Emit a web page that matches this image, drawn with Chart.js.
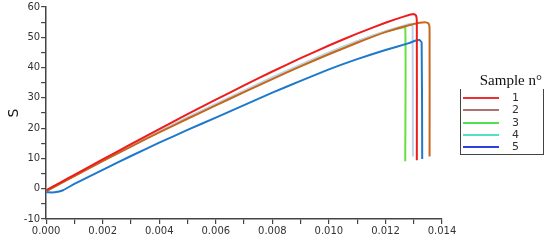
<!DOCTYPE html>
<html>
<head>
<meta charset="utf-8">
<script src="https://cdn.jsdelivr.net/npm/chart.js@4"></script>
<style>
  body { margin: 0; background: #fff; }
  #wrap { position: relative; width: 550px; height: 240px; }
  #legend { position: absolute; left: 460px; top: 71px; width: 84px; font-family: "DejaVu Sans", sans-serif; }
  #legend .title { font-family: "Liberation Serif", "DejaVu Serif", serif; font-size: 15px; color: #111; text-align: right; padding-right: 2px; line-height: 18px; }
  #legend .box { border-left: 1.5px solid #444; border-right: 1.5px solid #444; border-bottom: 1.5px solid #444; height: 65px; position: relative; }
  #legend .row { position: absolute; left: 1px; height: 12px; width: 80px; }
  #legend .row span.ln { position: absolute; left: 1px; top: 5px; width: 36px; height: 2px; }
  #legend .row span.lb { position: absolute; left: 50px; top: -1px; font-size: 11px; color: #333; }
</style>
</head>
<body>
<div id="wrap">
  <canvas id="myChart" width="550" height="240"></canvas>
  <div id="legend"></div>
</div>
<script>
// sample 1
const strain1 = [0, 0.0005, 0.001, 0.002, 0.003, 0.004, 0.005, 0.006, 0.007, 0.008, 0.009, 0.010, 0.011, 0.012, 0.0127, 0.0130, 0.01308, 0.01311, 0.01311];
const stress1 = [-0.5, 2.0, 4.6, 9.7, 14.7, 19.7, 24.6, 29.4, 34.1, 38.7, 43.1, 47.3, 51.2, 54.8, 57.0, 57.7, 57.2, 55.5, 9.4];
// sample 2
const strain2 = [0, 0.0005, 0.001, 0.002, 0.003, 0.004, 0.005, 0.006, 0.007, 0.008, 0.009, 0.010, 0.011, 0.012, 0.013, 0.0134, 0.01352, 0.01356, 0.01356];
const stress2 = [-0.8, 1.7, 4.2, 9.1, 13.9, 18.6, 23.1, 27.5, 31.9, 36.2, 40.4, 44.4, 48.2, 51.7, 54.4, 55.0, 54.6, 53.0, 10.6];
// sample 3
const strain3 = [0, 0.0005, 0.001, 0.002, 0.003, 0.004, 0.005, 0.006, 0.007, 0.008, 0.009, 0.010, 0.011, 0.012, 0.0125, 0.0127, 0.0127];
const stress3 = [-0.9, 1.8, 4.3, 9.3, 14.1, 18.8, 23.3, 27.7, 32.1, 36.5, 40.7, 44.8, 48.6, 51.9, 53.0, 53.3, 9.1];
// sample 4
const strain4 = [0, 0.0005, 0.001, 0.002, 0.003, 0.004, 0.005, 0.006, 0.007, 0.008, 0.009, 0.010, 0.011, 0.012, 0.0127, 0.01290, 0.01296, 0.01297];
const stress4 = [-0.7, 1.9, 4.4, 9.4, 14.3, 19.0, 23.6, 28.0, 32.4, 36.8, 41.0, 45.0, 48.7, 52.0, 54.0, 54.5, 53.5, 10.6];
// sample 5
const strain5 = [0, 0.0003, 0.0006, 0.001, 0.002, 0.003, 0.004, 0.005, 0.006, 0.007, 0.008, 0.009, 0.010, 0.011, 0.012, 0.0128, 0.0131, 0.0132, 0.01328, 0.0133];
const stress5 = [-1.2, -1.2, -0.5, 1.6, 6.2, 10.8, 15.2, 19.4, 23.5, 27.6, 31.7, 35.6, 39.4, 42.8, 45.8, 48.0, 49.0, 49.1, 48.3, 9.8];

const sampleLabels = ["1", "2", "3", "4", "5"];
const lineColors = ["#ee1c1c", "#c8661c", "#66e040", "#bcd4e6", "#1e78cc"];
const legendColors = ["#f03030", "#b07070", "#50e050", "#50e0c8", "#3040e0"];

function pairs(xs, ys) {
  return xs.map(function (x, i) { return { x: x, y: ys[i] }; });
}

const series = [
  pairs(strain1, stress1),
  pairs(strain2, stress2),
  pairs(strain3, stress3),
  pairs(strain4, stress4),
  pairs(strain5, stress5),
];

// red drawn last (on top)
const order = [0, 2, 4, 3, 1];

const data = {
  datasets: series.map(function (pts, i) {
    return {
      label: sampleLabels[i],
      data: pts,
      borderColor: lineColors[i],
      backgroundColor: lineColors[i],
      borderWidth: 2,
      pointRadius: 0,
      showLine: true,
      tension: 0.15,
      order: order[i],
    };
  }),
};

const config = {
  type: "scatter",
  data: data,
  options: {
    responsive: false,
    animation: false,
    layout: { padding: { top: 4, right: 108, left: 6, bottom: 2 } },
    plugins: {
      legend: { display: false },
      tooltip: { enabled: false },
    },
    scales: {
      x: {
        type: "linear",
        min: 0,
        max: 0.014,
        border: { color: "#444", width: 1.5 },
        grid: { drawOnChartArea: false, color: "#444", tickLength: 5, lineWidth: 1.2 },
        ticks: {
          stepSize: 0.001,
          autoSkip: false,
          maxRotation: 0,
          padding: 1,
          color: "#333",
          font: { family: "DejaVu Sans", size: 10 },
          callback: function (v) {
            const k = Math.round(v * 1000);
            return k % 2 === 0 ? (k / 1000).toFixed(3) : "";
          },
        },
      },
      y: {
        min: -10,
        max: 60,
        border: { color: "#444", width: 1.5 },
        grid: { drawOnChartArea: false, color: "#444", tickLength: 5, lineWidth: 1.2 },
        title: { display: true, text: "S", color: "#111", font: { family: "DejaVu Sans", size: 14 }, padding: 0 },
        ticks: {
          stepSize: 5,
          autoSkip: false,
          padding: 1,
          color: "#333",
          font: { family: "DejaVu Sans", size: 10 },
          callback: function (v) {
            return v % 10 === 0 ? String(v) : "";
          },
        },
      },
    },
  },
};

const ctx = document.getElementById("myChart").getContext("2d");
const myChart = new Chart(ctx, config);

// legend box
const legend = document.getElementById("legend");
let html = '<div class="title">Sample n°</div><div class="box">';
sampleLabels.forEach(function (lab, i) {
  html += '<div class="row" style="top:' + (3 + i * 12.3) + 'px"><span class="ln" style="background:' + legendColors[i] + '"></span><span class="lb">' + lab + "</span></div>";
});
html += "</div>";
legend.innerHTML = html;
</script>
</body>
</html>
